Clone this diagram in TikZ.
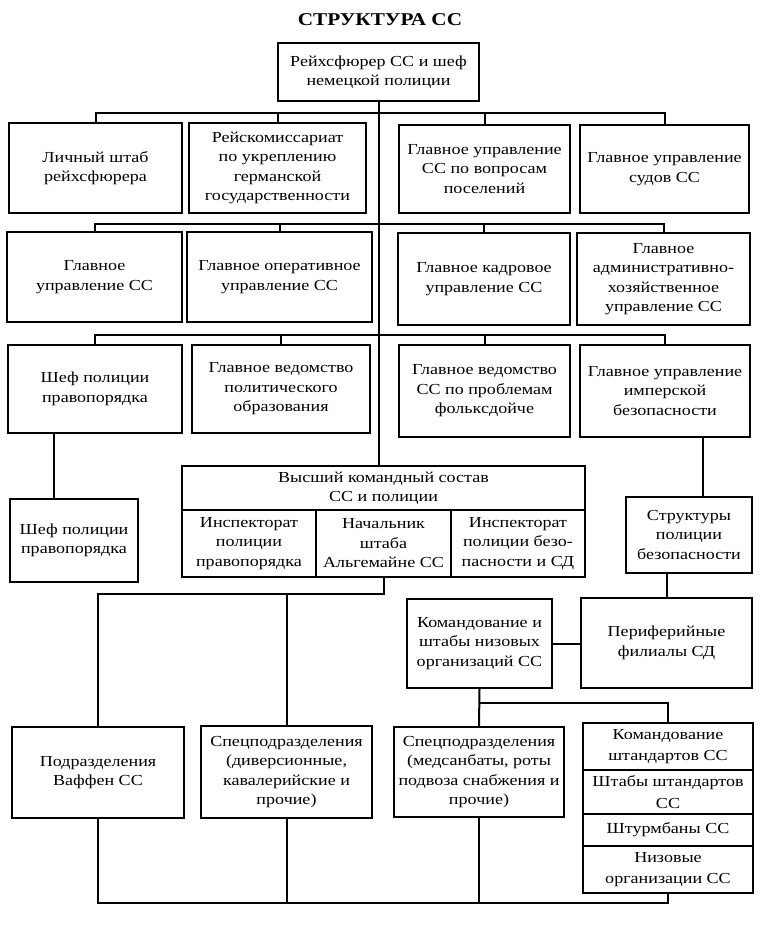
\documentclass[tikz,border=0pt]{standalone}
\usepackage{fontspec}
\setmainfont[FakeStretch=1.18]{Liberation Serif}
\begin{document}
\begin{tikzpicture}[x=1pt,y=-1pt,
  box/.style={draw, line width=2.3pt, align=center, inner sep=0pt,
    font=\fontsize{15.3}{19.5}\selectfont},
  conn/.style={line width=2pt}]
\useasboundingbox (0,0) rectangle (760,944);
\node[font=\fontsize{18}{20}\selectfont\bfseries] (title) at (380,20) {СТРУКТУРА СС};
\node[box, minimum width=201pt, minimum height=58pt] (top) at (378.5,72) {Рейхсфюрер СС и шеф\\немецкой полиции};
% row 1
\node[box, minimum width=173pt, minimum height=90pt] (a1) at (95.5,168) {Личный штаб\\рейхсфюрера};
\node[box, minimum width=177pt, minimum height=90pt] (a2) at (277.5,168) {Рейскомиссариат\\по укреплению\\германской\\государственности};
\node[box, minimum width=171pt, minimum height=88pt] (b1) at (484.5,169) {Главное управление\\СС по вопросам\\поселений};
\node[box, minimum width=169pt, minimum height=88pt] (b2) at (664.5,169) {Главное управление\\судов СС};
% row 2
\node[box, minimum width=175pt, minimum height=90pt] (c1) at (94.5,277) {Главное\\управление СС};
\node[box, minimum width=185pt, minimum height=90pt] (c2) at (279.5,277) {Главное оперативное\\управление СС};
\node[box, minimum width=172pt, minimum height=92pt] (d1) at (484,279) {Главное кадровое\\управление СС};
\node[box, minimum width=173pt, minimum height=92pt] (d2) at (663.5,279) {Главное\\административно-\\хозяйственное\\управление СС};
% row 3
\node[box, minimum width=174pt, minimum height=88pt] (e1) at (95,389) {Шеф полиции\\правопорядка};
\node[box, minimum width=178pt, minimum height=88pt] (e2) at (281,389) {Главное ведомство\\политического\\образования};
\node[box, minimum width=171pt, minimum height=92pt] (f1) at (484.5,391) {Главное ведомство\\СС по проблемам\\фольксдойче};
\node[box, minimum width=170pt, minimum height=92pt] (f2) at (665,391) {Главное управление\\имперской\\безопасности};
% middle
\node[box, minimum width=128pt, minimum height=83pt] (g) at (74,540.5) {Шеф полиции\\правопорядка};
\node[box, minimum width=126pt, minimum height=76pt] (h) at (689,535) {Структуры\\полиции\\безопасности};
\node[box, minimum width=171pt, minimum height=90pt] (i) at (666.5,643) {Периферийные\\филиалы СД};
\node[box, minimum width=403pt, minimum height=44pt] (hk) at (383.5,488) {Высший командный состав\\СС и полиции};
\node[box, minimum width=134pt, minimum height=67pt] (hk1) at (249,543.5) {Инспекторат\\полиции\\правопорядка};
\node[box, minimum width=135pt, minimum height=67pt] (hk2) at (383.5,543.5) {Начальник\\штаба\\Альгемайне СС};
\node[box, minimum width=134pt, minimum height=67pt] (hk3) at (518,543.5) {Инспекторат\\полиции безо-\\пасности и СД};
\node[box, minimum width=145pt, minimum height=89pt] (n) at (479.5,643.5) {Командование и\\штабы низовых\\организаций СС};
% bottom
\node[box, minimum width=172pt, minimum height=91pt] (j) at (98,772.5) {Подразделения\\Ваффен СС};
\node[box, minimum width=171pt, minimum height=92pt] (k) at (286.5,772) {Спецподразделения\\(диверсионные,\\кавалерийские и\\прочие)};
\node[box, minimum width=170pt, minimum height=90pt] (l) at (479,772) {Спецподразделения\\(медсанбаты, роты\\подвоза снабжения и\\прочие)};
\node[box, minimum width=170pt, minimum height=47pt, font=\fontsize{15.3}{21.5}\selectfont] (m1) at (668,746.5) {Командование\\штандартов СС};
\node[box, minimum width=170pt, minimum height=44pt, font=\fontsize{15.3}{21.5}\selectfont] (m2) at (668,792) {Штабы штандартов\\СС};
\node[box, minimum width=170pt, minimum height=32pt] (m3) at (668,830) {Штурмбаны СС};
\node[box, minimum width=170pt, minimum height=47pt, font=\fontsize{15.3}{21.5}\selectfont] (m4) at (668,869.5) {Низовые\\организации СС};
% connectors
\coordinate (bus1) at (380,113);
\coordinate (bus2) at (380,224);
\coordinate (bus3) at (380,335);
\coordinate (busJ) at (383.5,594);
\coordinate (busLM) at (479.5,703);
\coordinate (busB) at (380,903);
\draw[conn] (top.south) -- (top.south |- hk.north);
\draw[conn] (a1.north) -- (a1.north |- bus1) -- (b2.north |- bus1) -- (b2.north);
\draw[conn] (a2.north) -- (a2.north |- bus1);
\draw[conn] (b1.north) -- (b1.north |- bus1);
\draw[conn] (c1.north) -- (c1.north |- bus2) -- (d2.north |- bus2) -- (d2.north);
\draw[conn] (c2.north) -- (c2.north |- bus2);
\draw[conn] (d1.north) -- (d1.north |- bus2);
\draw[conn] (e1.north) -- (e1.north |- bus3) -- (f2.north |- bus3) -- (f2.north);
\draw[conn] (e2.north) -- (e2.north |- bus3);
\draw[conn] (f1.north) -- (f1.north |- bus3);
\draw[conn] ([xshift=-41pt]e1.south) -- ([xshift=-41pt]e1.south |- g.north);
\draw[conn] ([xshift=38pt]f2.south) -- ([xshift=38pt]f2.south |- h.north);
\draw[conn] (i.north) -- (i.north |- h.south);
\draw[conn] (n.east) -- (n.east -| i.west);
\draw[conn] (hk2.south) -- (busJ) -| (j.north);
\draw[conn] (k.north) -- (k.north |- busJ);
\draw[conn] (n.south) -- (l.north);
\draw[conn] (busLM) -| (m1.north);
\draw[conn] (j.south) -- (j.south |- busB) -- (m4.south |- busB) -- (m4.south);
\draw[conn] (k.south) -- (k.south |- busB);
\draw[conn] (l.south) -- (l.south |- busB);
\end{tikzpicture}
\end{document}
